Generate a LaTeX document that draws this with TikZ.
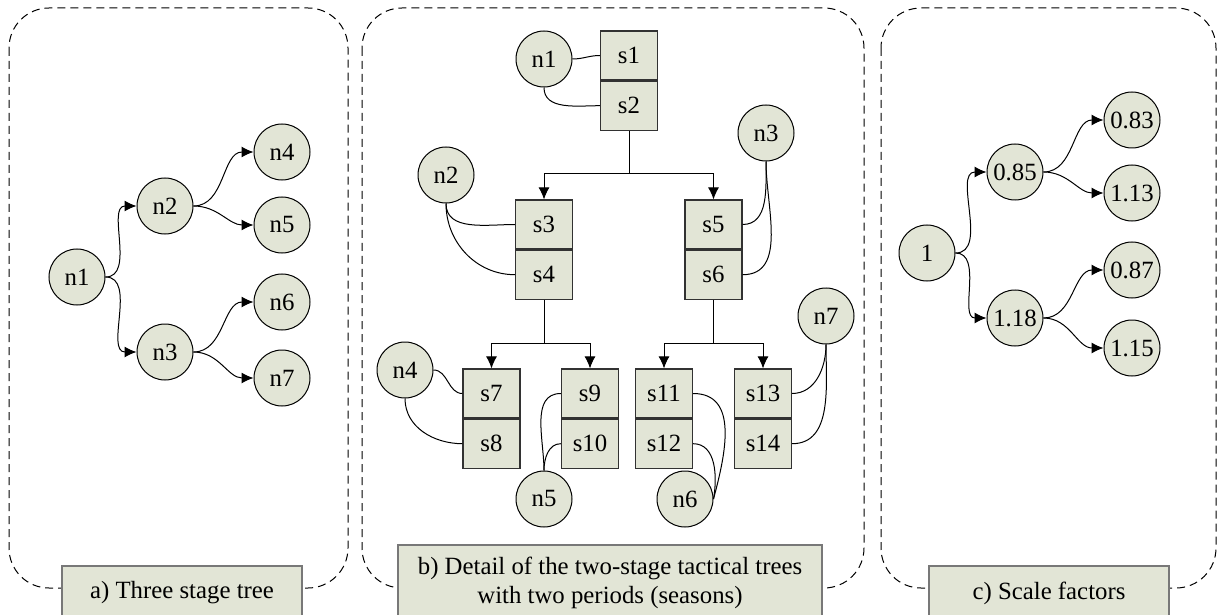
\documentclass[tikz,border=0pt]{standalone}
\usepackage{fontspec}
\setmainfont{Liberation Serif}
\usepackage{tikz}
\usetikzlibrary{arrows.meta,positioning}
\definecolor{sagefill}{RGB}{226,229,214}
\definecolor{boxline}{RGB}{50,50,50}
\definecolor{capline}{RGB}{120,120,120}

\begin{document}
\begin{tikzpicture}[x=0.5pt,y=-0.5pt,font=\fontsize{12.4}{14.5}\selectfont,
	stage/.style={circle,draw=black,line width=0.5pt,fill=sagefill,minimum size=28pt,inner sep=0pt},
	season/.style={rectangle,draw=boxline,line width=0.6pt,fill=sagefill,minimum width=28.5pt,minimum height=24.5pt,inner sep=0pt},
	panel/.style={draw=black,line width=0.5pt,dash pattern=on 4pt off 2.5pt,rounded corners=20pt},
	caption/.style={rectangle,draw=capline,line width=0.75pt,fill=sagefill,inner sep=0pt,align=center},
	link/.style={draw=black,line width=0.5pt},
	tip/.style={link,-{Latex[length=6pt,width=5.5pt]}}]
	\useasboundingbox (0,0) rectangle (1222,615);
	\draw [panel] (9,8) rectangle (348,588);
	\draw [panel] (362,8) rectangle (864,588);
	\draw [panel] (881,8) rectangle (1216,588);
	% a)
	\node [stage] (a1) at (77,277) {n1};
	\node [stage] (a2) at (165,206) {n2};
	\node [stage] (a3) at (165,352) {n3};
	\node [stage] (a4) at (282,152) {n4};
	\node [stage] (a5) at (282,225) {n5};
	\node [stage] (a6) at (282,302) {n6};
	\node [stage] (a7) at (282,378) {n7};
	\draw [tip] (a1.east) to[out=0,in=180] (a2.west);
	\draw [tip] (a1.east) to[out=0,in=180] (a3.west);
	\draw [tip] (a2.east) to[out=0,in=180] (a4.west);
	\draw [tip] (a2.east) to[out=0,in=180] (a5.west);
	\draw [tip] (a3.east) to[out=0,in=180] (a6.west);
	\draw [tip] (a3.east) to[out=0,in=180] (a7.west);
	\node [caption,minimum width=120pt,minimum height=27pt] (capA) at (182,593) {a) Three stage tree};
	% b)
	\node [season] (s1) at (629,55.5) {s1};
	\node [season,below=0pt of s1] (s2) {s2};
	\node [season] (s3) at (544,224.5) {s3};
	\node [season,below=0pt of s3] (s4) {s4};
	\node [season] (s5) at (713.5,224.5) {s5};
	\node [season,below=0pt of s5] (s6) {s6};
	\node [season] (s7) at (491.5,393.5) {s7};
	\node [season,below=0pt of s7] (s8) {s8};
	\node [season] (s9) at (590,393.5) {s9};
	\node [season,below=0pt of s9] (s10) {s10};
	\node [season] (s11) at (664,393.5) {s11};
	\node [season,below=0pt of s11] (s12) {s12};
	\node [season] (s13) at (763,393.5) {s13};
	\node [season,below=0pt of s13] (s14) {s14};
	\node [stage] (b1) at (544,59) {n1};
	\node [stage] (b2) at (446,175) {n2};
	\node [stage] (b3) at (766,133) {n3};
	\node [stage] (b4) at (405,370) {n4};
	\node [stage] (b5) at (544,499) {n5};
	\node [stage] (b6) at (685,499) {n6};
	\node [stage] (b7) at (826,316) {n7};
	\coordinate (j1) at (629,174);
	\coordinate (j2) at (544,343);
	\coordinate (j3) at (713.5,343);
	\draw [link] (s2.south) -- (j1);
	\draw [tip] (j1) -| (s3.north);
	\draw [tip] (j1) -| (s5.north);
	\draw [link] (s4.south) -- (j2);
	\draw [tip] (j2) -| (s7.north);
	\draw [tip] (j2) -| (s9.north);
	\draw [link] (s6.south) -- (j3);
	\draw [tip] (j3) -| (s11.north);
	\draw [tip] (j3) -| (s13.north);
	\draw [link] (b1.east) to[out=0,in=180] (s1.west);
	\draw [link] (b1.south) to[out=-90,in=180] (s2.west);
	\draw [link] (b2.south) to[out=-90,in=180] (s3.west);
	\draw [link] (b2.south) to[out=-90,in=180] (s4.west);
	\draw [link] (b3.south) to[out=-90,in=0] (s5.east);
	\draw [link] (b3.south) to[out=-90,in=0] (s6.east);
	\draw [link] (b4.east) to[out=0,in=180] (s7.west);
	\draw [link] (b4.south) to[out=-90,in=180] (s8.west);
	\draw [link] (b5.north) to[out=90,in=180] (s9.west);
	\draw [link] (b5.north) to[out=90,in=180] (s10.west);
	\draw [link] (s11.east) to[out=0,in=75,looseness=1.1] (b6.east);
	\draw [link] (s12.east) to[out=0,in=80] (b6.east);
	\draw [link] (b7.south) to[out=-90,in=0] (s13.east);
	\draw [link] (b7.south) to[out=-90,in=0] (s14.east);
	\node [caption,minimum width=212pt,minimum height=37.5pt] (capB) at (610,582.5) {b) Detail of the two-stage tactical trees\\with two periods (seasons)};
	% c)
	\node [stage] (c1) at (927,253) {1};
	\node [stage] (c2) at (1015,172) {0.85};
	\node [stage] (c3) at (1015,318) {1.18};
	\node [stage] (c4) at (1132,120) {0.83};
	\node [stage] (c5) at (1132,193) {1.13};
	\node [stage] (c6) at (1132,270) {0.87};
	\node [stage] (c7) at (1132,348) {1.15};
	\draw [tip] (c1.east) to[out=0,in=180] (c2.west);
	\draw [tip] (c1.east) to[out=0,in=180] (c3.west);
	\draw [tip] (c2.east) to[out=0,in=180] (c4.west);
	\draw [tip] (c2.east) to[out=0,in=180] (c5.west);
	\draw [tip] (c3.east) to[out=0,in=180] (c6.west);
	\draw [tip] (c3.east) to[out=0,in=180] (c7.west);
	\node [caption,minimum width=120pt,minimum height=27pt] (capC) at (1049,593) {c) Scale factors};
\end{tikzpicture}
\end{document}
